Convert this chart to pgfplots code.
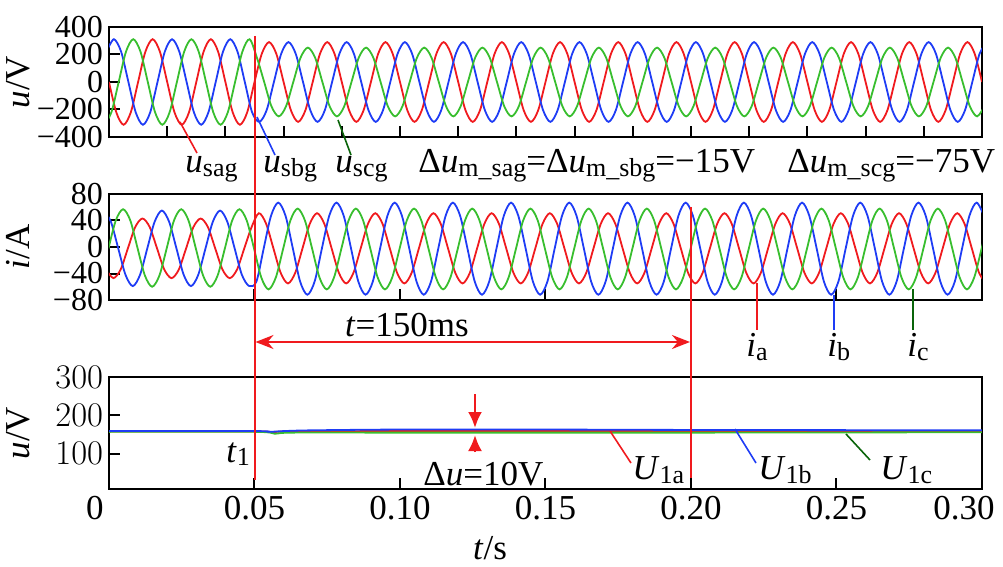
\documentclass[border=0pt]{standalone}
\usepackage{fontspec}
\setmainfont{Liberation Serif}
\usepackage{pgfplots}
\pgfplotsset{compat=1.18}
\usetikzlibrary{arrows.meta}
\definecolor{redc}{HTML}{F01A1E}
\definecolor{bluc}{HTML}{1E3CF5}
\definecolor{grnc}{HTML}{38BE2E}
\definecolor{dgrn}{HTML}{0A640A}
\newcommand\fs{\fontsize{17.5}{20}\selectfont}
\newcommand\sub[1]{\raisebox{-1.7pt}{\fontsize{13}{14}\selectfont #1}}
\pgfplotsset{panel/.style={
  scale only axis, width=436.5pt, xmin=0, xmax=0.3,
  axis line style={line width=1pt}, tick style={line width=1pt, black},
  tick align=inside, xtick pos=bottom, ytick pos=left, major tick length=5.5pt,
  xticklabel style={font=\fs},
  yticklabel style={font=\fontsize{16}{18}\selectfont, inner sep=0.3pt, xshift=-2.5pt},
  every axis plot/.append style={line width=0.9pt, smooth},
}}
\begin{document}
\begin{tikzpicture}

% voltages
\begin{axis}[panel, at={(54.5pt,-68.5pt)}, anchor=south west, height=55pt,
  ymin=-400, ymax=400, ytick={-400,-200,0,200,400}, yticklabels={−400,−200,0,200,400},
  xtick={0,0.02,0.04,0.06,0.08,0.1,0.12,0.14,0.16,0.18,0.2,0.22,0.24,0.26,0.28}, xticklabels={}]
\addplot[redc] coordinates {
(0,0) (0.0025,-220) (0.005,-311) (0.0075,-220) (0.01,0) (0.0125,220) (0.015,311) (0.0175,220)
(0.02,0) (0.0225,-220) (0.025,-311) (0.0275,-220) (0.03,0) (0.0325,220) (0.035,311) (0.0375,220)
(0.04,0) (0.0425,-220) (0.045,-311) (0.0475,-220)
(0.05,0) (0.0525,205) (0.055,290) (0.0575,205)
(0.06,0) (0.0625,-205) (0.065,-290) (0.0675,-205) (0.07,0) (0.0725,205) (0.075,290) (0.0775,205)
(0.08,0) (0.0825,-205) (0.085,-290) (0.0875,-205) (0.09,0) (0.0925,205) (0.095,290) (0.0975,205)
(0.1,0) (0.1025,-205) (0.105,-290) (0.1075,-205) (0.11,0) (0.1125,205) (0.115,290) (0.1175,205)
(0.12,0) (0.1225,-205) (0.125,-290) (0.1275,-205) (0.13,0) (0.1325,205) (0.135,290) (0.1375,205)
(0.14,0) (0.1425,-205) (0.145,-290) (0.1475,-205) (0.15,0) (0.1525,205) (0.155,290) (0.1575,205)
(0.16,0) (0.1625,-205) (0.165,-290) (0.1675,-205) (0.17,0) (0.1725,205) (0.175,290) (0.1775,205)
(0.18,0) (0.1825,-205) (0.185,-290) (0.1875,-205) (0.19,0) (0.1925,205) (0.195,290) (0.1975,205)
(0.2,0) (0.2025,-205) (0.205,-290) (0.2075,-205) (0.21,0) (0.2125,205) (0.215,290) (0.2175,205)
(0.22,0) (0.2225,-205) (0.225,-290) (0.2275,-205) (0.23,0) (0.2325,205) (0.235,290) (0.2375,205)
(0.24,0) (0.2425,-205) (0.245,-290) (0.2475,-205) (0.25,0) (0.2525,205) (0.255,290) (0.2575,205)
(0.26,0) (0.2625,-205) (0.265,-290) (0.2675,-205) (0.27,0) (0.2725,205) (0.275,290) (0.2775,205)
(0.28,0) (0.2825,-205) (0.285,-290) (0.2875,-205) (0.29,0) (0.2925,205) (0.295,290) (0.2975,205)
(0.3,0)};
\addplot[bluc] coordinates {
(-0.00083,220)
(0.00167,311) (0.00417,220) (0.00667,0) (0.00917,-220) (0.01167,-311) (0.01417,-220) (0.01667,0) (0.01917,220)
(0.02167,311) (0.02417,220) (0.02667,0) (0.02917,-220) (0.03167,-311) (0.03417,-220) (0.03667,0) (0.03917,220)
(0.04167,311) (0.04417,220) (0.04667,0) (0.04917,-220)
(0.05167,-290) (0.05417,-205) (0.05667,0) (0.05917,205)
(0.06167,290) (0.06417,205) (0.06667,0) (0.06917,-205) (0.07167,-290) (0.07417,-205) (0.07667,0) (0.07917,205)
(0.08167,290) (0.08417,205) (0.08667,0) (0.08917,-205) (0.09167,-290) (0.09417,-205) (0.09667,0) (0.09917,205)
(0.10167,290) (0.10417,205) (0.10667,0) (0.10917,-205) (0.11167,-290) (0.11417,-205) (0.11667,0) (0.11917,205)
(0.12167,290) (0.12417,205) (0.12667,0) (0.12917,-205) (0.13167,-290) (0.13417,-205) (0.13667,0) (0.13917,205)
(0.14167,290) (0.14417,205) (0.14667,0) (0.14917,-205) (0.15167,-290) (0.15417,-205) (0.15667,0) (0.15917,205)
(0.16167,290) (0.16417,205) (0.16667,0) (0.16917,-205) (0.17167,-290) (0.17417,-205) (0.17667,0) (0.17917,205)
(0.18167,290) (0.18417,205) (0.18667,0) (0.18917,-205) (0.19167,-290) (0.19417,-205) (0.19667,0) (0.19917,205)
(0.20167,290) (0.20417,205) (0.20667,0) (0.20917,-205) (0.21167,-290) (0.21417,-205) (0.21667,0) (0.21917,205)
(0.22167,290) (0.22417,205) (0.22667,0) (0.22917,-205) (0.23167,-290) (0.23417,-205) (0.23667,0) (0.23917,205)
(0.24167,290) (0.24417,205) (0.24667,0) (0.24917,-205) (0.25167,-290) (0.25417,-205) (0.25667,0) (0.25917,205)
(0.26167,290) (0.26417,205) (0.26667,0) (0.26917,-205) (0.27167,-290) (0.27417,-205) (0.27667,0) (0.27917,205)
(0.28167,290) (0.28417,205) (0.28667,0) (0.28917,-205) (0.29167,-290) (0.29417,-205) (0.29667,0) (0.29917,205)
(0.30167,290)};
\addplot[grnc] coordinates {
(-0.00167,-311)
(0.00083,-220) (0.00333,0) (0.00583,220) (0.00833,311) (0.01083,220) (0.01333,0) (0.01583,-220) (0.01833,-311)
(0.02083,-220) (0.02333,0) (0.02583,220) (0.02833,311) (0.03083,220) (0.03333,0) (0.03583,-220) (0.03833,-311)
(0.04083,-220) (0.04333,0) (0.04583,220) (0.04833,311)
(0.05083,177) (0.05333,0) (0.05583,-177) (0.05833,-250)
(0.06083,-177) (0.06333,0) (0.06583,177) (0.06833,250) (0.07083,177) (0.07333,0) (0.07583,-177) (0.07833,-250)
(0.08083,-177) (0.08333,0) (0.08583,177) (0.08833,250) (0.09083,177) (0.09333,0) (0.09583,-177) (0.09833,-250)
(0.10083,-177) (0.10333,0) (0.10583,177) (0.10833,250) (0.11083,177) (0.11333,0) (0.11583,-177) (0.11833,-250)
(0.12083,-177) (0.12333,0) (0.12583,177) (0.12833,250) (0.13083,177) (0.13333,0) (0.13583,-177) (0.13833,-250)
(0.14083,-177) (0.14333,0) (0.14583,177) (0.14833,250) (0.15083,177) (0.15333,0) (0.15583,-177) (0.15833,-250)
(0.16083,-177) (0.16333,0) (0.16583,177) (0.16833,250) (0.17083,177) (0.17333,0) (0.17583,-177) (0.17833,-250)
(0.18083,-177) (0.18333,0) (0.18583,177) (0.18833,250) (0.19083,177) (0.19333,0) (0.19583,-177) (0.19833,-250)
(0.20083,-177) (0.20333,0) (0.20583,177) (0.20833,250) (0.21083,177) (0.21333,0) (0.21583,-177) (0.21833,-250)
(0.22083,-177) (0.22333,0) (0.22583,177) (0.22833,250) (0.23083,177) (0.23333,0) (0.23583,-177) (0.23833,-250)
(0.24083,-177) (0.24333,0) (0.24583,177) (0.24833,250) (0.25083,177) (0.25333,0) (0.25583,-177) (0.25833,-250)
(0.26083,-177) (0.26333,0) (0.26583,177) (0.26833,250) (0.27083,177) (0.27333,0) (0.27583,-177) (0.27833,-250)
(0.28083,-177) (0.28333,0) (0.28583,177) (0.28833,250) (0.29083,177) (0.29333,0) (0.29583,-177) (0.29833,-250)
(0.30083,-177)};
\end{axis}

% currents
\begin{axis}[panel, at={(54.5pt,-150pt)}, anchor=south west, height=53pt,
  ymin=-80, ymax=80, ytick={-80,-40,0,40,80}, yticklabels={−80,−40,0,40,80},
  xtick={0,0.05,0.1,0.15,0.2,0.25}, xticklabels={}]
\addplot[redc] coordinates {
(-0.001,-34)
(0.0015,-47) (0.004,-34) (0.0065,-2) (0.009,30) (0.0115,43) (0.014,30) (0.0165,-2) (0.019,-34)
(0.0215,-47) (0.024,-34) (0.0265,-2) (0.029,30) (0.0315,43) (0.034,30) (0.0365,-2) (0.039,-34)
(0.0415,-47) (0.044,-34) (0.0465,-2) (0.049,30)
(0.0515,51) (0.054,35) (0.0565,-2) (0.059,-39)
(0.0615,-55) (0.064,-39) (0.0665,-2) (0.069,35) (0.0715,51) (0.074,35) (0.0765,-2) (0.079,-39)
(0.0815,-55) (0.084,-39) (0.0865,-2) (0.089,35) (0.0915,51) (0.094,35) (0.0965,-2) (0.099,-39)
(0.1015,-55) (0.104,-39) (0.1065,-2) (0.109,35) (0.1115,51) (0.114,35) (0.1165,-2) (0.119,-39)
(0.1215,-55) (0.124,-39) (0.1265,-2) (0.129,35) (0.1315,51) (0.134,35) (0.1365,-2) (0.139,-39)
(0.1415,-55) (0.144,-39) (0.1465,-2) (0.149,35) (0.1515,51) (0.154,35) (0.1565,-2) (0.159,-39)
(0.1615,-55) (0.164,-39) (0.1665,-2) (0.169,35) (0.1715,51) (0.174,35) (0.1765,-2) (0.179,-39)
(0.1815,-55) (0.184,-39) (0.1865,-2) (0.189,35) (0.1915,51) (0.194,35) (0.1965,-2) (0.199,-39)
(0.2015,-55) (0.204,-39) (0.2065,-2) (0.209,35) (0.2115,51) (0.214,35) (0.2165,-2) (0.219,-39)
(0.2215,-55) (0.224,-39) (0.2265,-2) (0.229,35) (0.2315,51) (0.234,35) (0.2365,-2) (0.239,-39)
(0.2415,-55) (0.244,-39) (0.2465,-2) (0.249,35) (0.2515,51) (0.254,35) (0.2565,-2) (0.259,-39)
(0.2615,-55) (0.264,-39) (0.2665,-2) (0.269,35) (0.2715,51) (0.274,35) (0.2765,-2) (0.279,-39)
(0.2815,-55) (0.284,-39) (0.2865,-2) (0.289,35) (0.2915,51) (0.294,35) (0.2965,-2) (0.299,-39)
(0.3015,-55)};
\addplot[bluc] coordinates {
(-0.00183,55)
(0.00067,38) (0.00317,-2) (0.00567,-42) (0.00817,-59) (0.01067,-42) (0.01317,-2) (0.01567,38) (0.01817,55)
(0.02067,38) (0.02317,-2) (0.02567,-42) (0.02817,-59) (0.03067,-42) (0.03317,-2) (0.03567,38) (0.03817,55)
(0.04067,38) (0.04317,-2) (0.04567,-42) (0.04817,-59)
(0.05067,-52) (0.05317,-2) (0.05567,47) (0.05817,67)
(0.06067,47) (0.06317,-2) (0.06567,-52) (0.06817,-72) (0.07067,-52) (0.07317,-2) (0.07567,47) (0.07817,67)
(0.08067,47) (0.08317,-2) (0.08567,-52) (0.08817,-72) (0.09067,-52) (0.09317,-2) (0.09567,47) (0.09817,67)
(0.10067,47) (0.10317,-2) (0.10567,-52) (0.10817,-72) (0.11067,-52) (0.11317,-2) (0.11567,47) (0.11817,67)
(0.12067,47) (0.12317,-2) (0.12567,-52) (0.12817,-72) (0.13067,-52) (0.13317,-2) (0.13567,47) (0.13817,67)
(0.14067,47) (0.14317,-2) (0.14567,-52) (0.14817,-72) (0.15067,-52) (0.15317,-2) (0.15567,47) (0.15817,67)
(0.16067,47) (0.16317,-2) (0.16567,-52) (0.16817,-72) (0.17067,-52) (0.17317,-2) (0.17567,47) (0.17817,67)
(0.18067,47) (0.18317,-2) (0.18567,-52) (0.18817,-72) (0.19067,-52) (0.19317,-2) (0.19567,47) (0.19817,67)
(0.20067,47) (0.20317,-2) (0.20567,-52) (0.20817,-72) (0.21067,-52) (0.21317,-2) (0.21567,47) (0.21817,67)
(0.22067,47) (0.22317,-2) (0.22567,-52) (0.22817,-72) (0.23067,-52) (0.23317,-2) (0.23567,47) (0.23817,67)
(0.24067,47) (0.24317,-2) (0.24567,-52) (0.24817,-72) (0.25067,-52) (0.25317,-2) (0.25567,47) (0.25817,67)
(0.26067,47) (0.26317,-2) (0.26567,-52) (0.26817,-72) (0.27067,-52) (0.27317,-2) (0.27567,47) (0.27817,67)
(0.28067,47) (0.28317,-2) (0.28567,-52) (0.28817,-72) (0.29067,-52) (0.29317,-2) (0.29567,47) (0.29817,67)
(0.30067,47)};
\addplot[grnc] coordinates {
(-0.00017,-2) (0.00233,40) (0.00483,57) (0.00733,40) (0.00983,-2) (0.01233,-43) (0.01483,-60) (0.01733,-43)
(0.01983,-2) (0.02233,40) (0.02483,57) (0.02733,40) (0.02983,-2) (0.03233,-43) (0.03483,-60) (0.03733,-43)
(0.03983,-2) (0.04233,40) (0.04483,57) (0.04733,40) (0.04983,-2)
(0.05233,-46) (0.05483,-64) (0.05733,-46)
(0.05983,-3) (0.06233,40) (0.06483,58) (0.06733,40) (0.06983,-3) (0.07233,-46) (0.07483,-64) (0.07733,-46)
(0.07983,-3) (0.08233,40) (0.08483,58) (0.08733,40) (0.08983,-3) (0.09233,-46) (0.09483,-64) (0.09733,-46)
(0.09983,-3) (0.10233,40) (0.10483,58) (0.10733,40) (0.10983,-3) (0.11233,-46) (0.11483,-64) (0.11733,-46)
(0.11983,-3) (0.12233,40) (0.12483,58) (0.12733,40) (0.12983,-3) (0.13233,-46) (0.13483,-64) (0.13733,-46)
(0.13983,-3) (0.14233,40) (0.14483,58) (0.14733,40) (0.14983,-3) (0.15233,-46) (0.15483,-64) (0.15733,-46)
(0.15983,-3) (0.16233,40) (0.16483,58) (0.16733,40) (0.16983,-3) (0.17233,-46) (0.17483,-64) (0.17733,-46)
(0.17983,-3) (0.18233,40) (0.18483,58) (0.18733,40) (0.18983,-3) (0.19233,-46) (0.19483,-64) (0.19733,-46)
(0.19983,-3) (0.20233,40) (0.20483,58) (0.20733,40) (0.20983,-3) (0.21233,-46) (0.21483,-64) (0.21733,-46)
(0.21983,-3) (0.22233,40) (0.22483,58) (0.22733,40) (0.22983,-3) (0.23233,-46) (0.23483,-64) (0.23733,-46)
(0.23983,-3) (0.24233,40) (0.24483,58) (0.24733,40) (0.24983,-3) (0.25233,-46) (0.25483,-64) (0.25733,-46)
(0.25983,-3) (0.26233,40) (0.26483,58) (0.26733,40) (0.26983,-3) (0.27233,-46) (0.27483,-64) (0.27733,-46)
(0.27983,-3) (0.28233,40) (0.28483,58) (0.28733,40) (0.28983,-3) (0.29233,-46) (0.29483,-64) (0.29733,-46)
(0.29983,-3) (0.30233,40)};
\end{axis}

% dc-link voltages
\begin{axis}[panel, at={(54.5pt,-244.5pt)}, anchor=south west, height=56pt,
  ymin=8, ymax=300, ytick={100,200,300},
  xtick={0,0.05,0.1,0.15,0.2,0.25,0.3},
  xticklabels={\makebox[0pt]{0\hspace{14pt}},0.05,0.10,0.15,0.20,0.25,\makebox[0pt]{0.30\hspace{18pt}}}]
\addplot[redc] coordinates {(0,158) (0.05,158) (0.056,156) (0.062,158) (0.1,159) (0.2,159) (0.3,159)};
\addplot[grnc] coordinates {(0,157) (0.05,157) (0.057,152) (0.063,155) (0.1,155) (0.2,155) (0.3,156)};
\addplot[bluc] coordinates {(0,159) (0.05,159) (0.055,157) (0.06,159) (0.07,161) (0.1,163) (0.15,163) (0.2,162) (0.3,161)};
\end{axis}

\begin{scope}[x=0.5pt,y=-0.5pt,font=\fs]
% axis labels
\node[rotate=90] at (18,82) {\textit{u}/V};
\node[rotate=90] at (18,247) {\textit{i}/A};
\node[rotate=90] at (18,433) {\textit{u}/V};
\node at (490,548) {\textit{t}/s};
% event lines
\draw[redc, line width=1pt] (254.5,36) -- (254.5,480);
\draw[redc, line width=1pt] (691,207) -- (691,478);
\draw[redc, line width=1pt, {Stealth[length=9pt,width=7pt]}-{Stealth[length=9pt,width=7pt]}] (255.5,342) -- (690,342);
\node[anchor=base] at (407,336) {\textit{t}=150ms};
% top panel
\draw[redc, line width=0.8pt] (180,122) -- (197,153);
\draw[bluc, line width=0.8pt] (257,117) -- (275,155);
\draw[dgrn, line width=0.8pt] (338,120) -- (351,155);
\node[anchor=base west, inner sep=0pt] at (185,173) {\textit{u}\sub{sag}};
\node[anchor=base west, inner sep=0pt] at (263,173) {\textit{u}\sub{sbg}};
\node[anchor=base west, inner sep=0pt] at (335,173) {\textit{u}\sub{scg}};
\node[anchor=base west, inner sep=0pt] at (418,173) {Δ\textit{u}\sub{m\_sag}=Δ\textit{u}\sub{m\_sbg}=−15V};
\node[anchor=base west, inner sep=0pt] at (787,173) {Δ\textit{u}\sub{m\_scg}=−75V};
% middle panel
\draw[redc, line width=0.8pt] (757,283) -- (757,330);
\draw[bluc, line width=0.8pt] (834,295) -- (834,330);
\draw[dgrn, line width=0.8pt] (913,289) -- (913,330);
\node[anchor=base west, inner sep=0pt] at (746,357) {\textit{i}\sub{a}};
\node[anchor=base west, inner sep=0pt] at (827,357) {\textit{i}\sub{b}};
\node[anchor=base west, inner sep=0pt] at (907,357) {\textit{i}\sub{c}};
% bottom panel
\node[anchor=base west, inner sep=0pt] at (226,462) {\textit{t}\sub{1}};
\draw[redc, line width=1.2pt, -{Latex[length=8pt,width=7pt]}] (475,394) -- (475,428);
\draw[redc, line width=1.2pt, -{Latex[length=8pt,width=7pt]}] (475,452) -- (475,435);
\node[anchor=base west, inner sep=0pt] at (423,485) {Δ\textit{u}=10V};
\draw[redc, line width=0.8pt] (610,431) -- (631,463);
\draw[bluc, line width=0.8pt] (735,429) -- (756,463);
\draw[dgrn, line width=0.8pt] (846,434) -- (870,460);
\node[anchor=base west, inner sep=0pt] at (632,480) {\textit{U}\sub{1a}};
\node[anchor=base west, inner sep=0pt] at (758,480) {\textit{U}\sub{1b}};
\node[anchor=base west, inner sep=0pt] at (880,480) {\textit{U}\sub{1c}};
% page frame
\pgfresetboundingbox
\useasboundingbox (0,0) rectangle (1003,567);
\end{scope}
\end{tikzpicture}
\end{document}
